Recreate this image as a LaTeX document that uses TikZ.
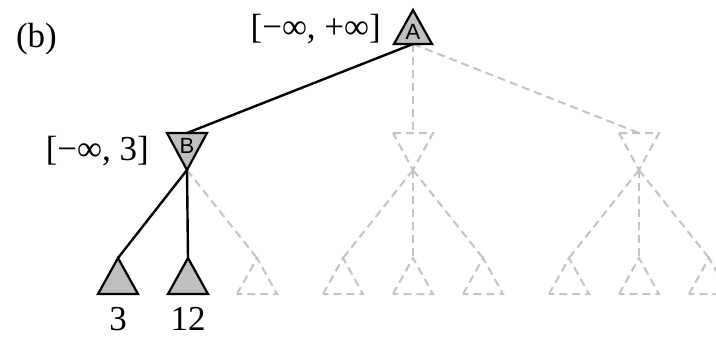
\documentclass[tikz,border=0pt]{standalone}
\usepackage{fontspec}
\setmainfont{Liberation Serif}
\newfontfamily\lsans{Liberation Sans}
\definecolor{trigray}{gray}{0.75}
\definecolor{ghostgray}{gray}{0.77}
\begin{document}
\begin{tikzpicture}[x=1pt,y=-1pt,
  solidedge/.style={line width=2.4pt, black},
  ghost/.style={line width=2pt, draw=ghostgray, dash pattern=on 8pt off 5pt},
  tri/.style={line width=2.2pt, draw=black, fill=trigray, line join=miter},
  ghosttri/.style={ghost, line join=miter},
  big/.style={font=\fontsize{35}{40}\selectfont, inner sep=0pt},
  letter/.style={font=\lsans\fontsize{22}{22}\selectfont, inner sep=0pt}]
\useasboundingbox (0,0) rectangle (716,338);

% connection points
\coordinate (Ab) at (413,44);
\coordinate (Bt) at (187,133); \coordinate (Bb) at (187,170);
\coordinate (Ct) at (413,133); \coordinate (Cb) at (413,170);
\coordinate (Dt) at (639,133); \coordinate (Db) at (639,170);
\foreach \n/\x in {b1/118,b2/188,b3/257,c1/343,c2/413,c3/483,d1/569,d2/639,d3/709}
  \coordinate (\n) at (\x,258);

% edges
\draw[ghost] (Ab) -- (Ct);
\draw[ghost] (Ab) -- (Dt);
\draw[solidedge] (Ab) -- (Bt);
\draw[ghost] (Bb) -- (b3);
\draw[solidedge] (Bb) -- (b1);
\draw[solidedge] (Bb) -- (b2);
\foreach \m/\k in {Cb/c1,Cb/c2,Cb/c3,Db/d1,Db/d2,Db/d3}
  \draw[ghost] (\m) -- (\k);

% root A
\draw[tri] (394,44) -- (413,10) -- (432,44) -- cycle;
\node[letter] (Alab) at (413,32) {A};
% MIN B
\draw[tri] (167,133) -- (207,133) -- (187,170) -- cycle;
\node[letter] (Blab) at (187,146) {B};
% ghost MIN nodes
\foreach \x in {413,639}
  \draw[ghosttri] (\x-20,133) -- (\x+20,133) -- (\x,170) -- cycle;
% leaves
\draw[tri] (98,294) -- (b1) -- (138,294) -- cycle;
\draw[tri] (168,294) -- (b2) -- (208,294) -- cycle;
\foreach \n/\x in {b3/257,c1/343,c2/413,c3/483,d1/569,d2/639,d3/709}
  \draw[ghosttri] (\x-20,294) -- (\n) -- (\x+20,294) -- cycle;

% labels
\node[big] (lb) at (36.5,39) {(b)};
\node[big, anchor=east] (la) at (381,29) {[−∞, +∞]};
\node[big, anchor=east] (lbb) at (149,151) {[−∞, 3]};
\node[big, anchor=base] (v1) at (118,330) {3};
\node[big, anchor=base] (v2) at (188,330) {12};
\end{tikzpicture}
\end{document}
